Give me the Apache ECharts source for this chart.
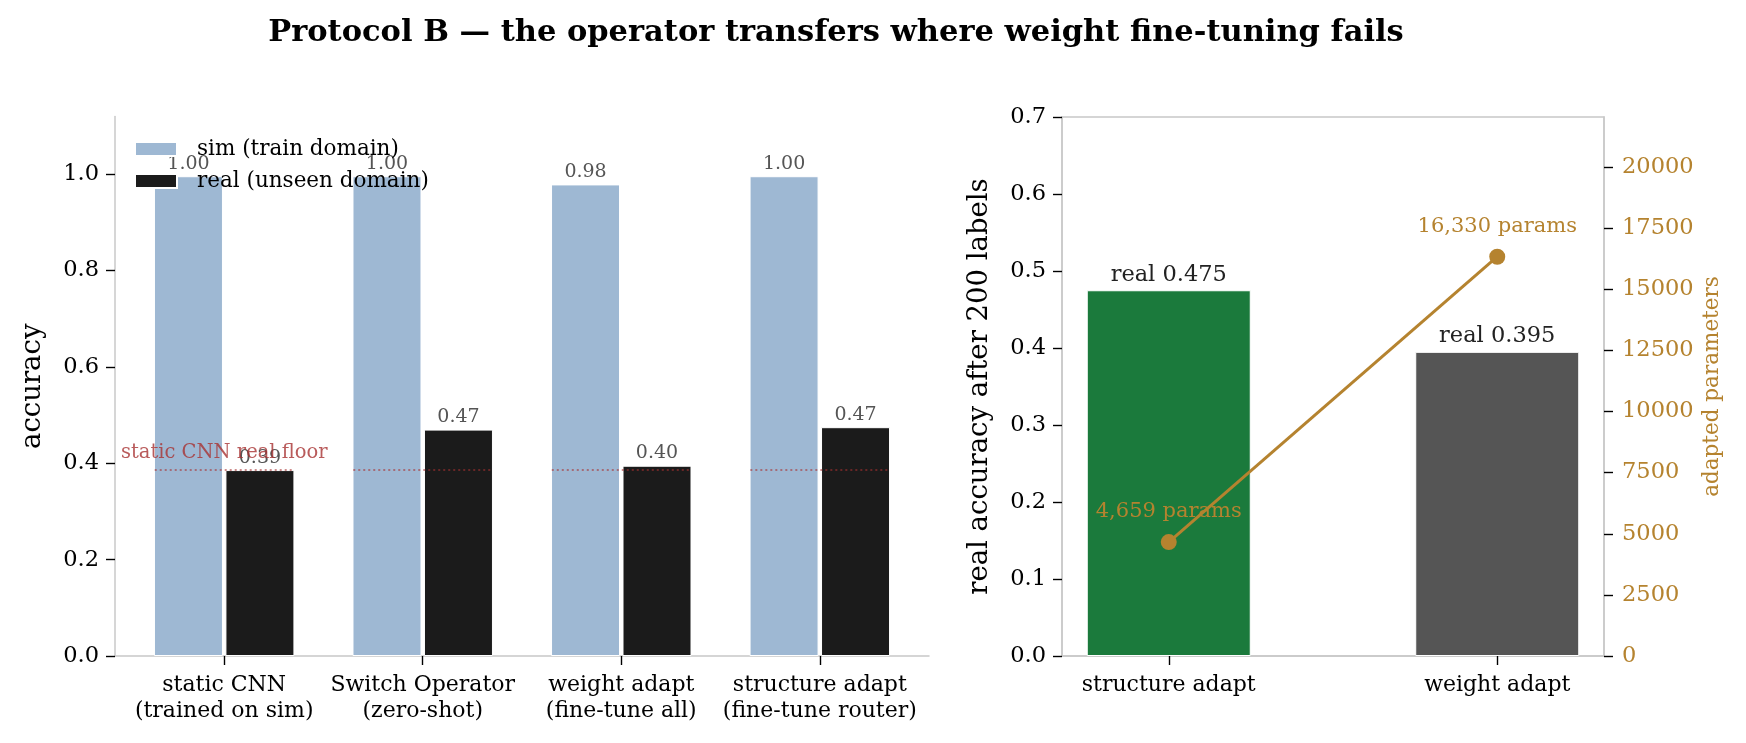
<!DOCTYPE html>
<html>
<head>
<meta charset="utf-8">
<script src="https://cdn.jsdelivr.net/npm/echarts@6/dist/echarts.min.js"></script>
<style>
html,body{margin:0;padding:0;background:#fff;}
#chart{width:1746px;height:743px;}
</style>
</head>
<body>
<div id="chart"></div>
<script>
// ---------- data ----------
const titleText = 'Protocol B \u2014 the operator transfers where weight fine-tuning fails';
const leftCategories = ['static CNN\n(trained on sim)', 'Switch Operator\n(zero-shot)', 'weight adapt\n(fine-tune all)', 'structure adapt\n(fine-tune router)'];
const simAccuracy = [0.996, 0.996, 0.979, 0.996];
const realAccuracy = [0.386, 0.470, 0.395, 0.475];
const staticFloor = 0.386;
const leftTicks = [0, 0.2, 0.4, 0.6, 0.8, 1.0];

const rightCategories = ['structure adapt', 'weight adapt'];
const rightRealAccuracy = [0.475, 0.395];
const adaptedParams = [4659, 16330];
const rightTicks = [0, 0.1, 0.2, 0.3, 0.4, 0.5, 0.6, 0.7];
const paramTicks = [0, 2500, 5000, 7500, 10000, 12500, 15000, 17500, 20000];

// ---------- styles ----------
const FONT = 'DejaVu Serif';
const SPINE = '#c8c8c8';
const GOLD = '#b5832f';
const SIM_COLOR = '#9eb8d3';
const REAL_COLOR = '#1b1b1b';
const FLOOR_COLOR = '#a83232';

const groupOffset = 0.18;
const floorHalf = 0.35;

const chart = echarts.init(document.getElementById('chart'), null, {renderer: 'canvas'});

const axisTickStyle = {show: true, length: 9, lineStyle: {color: '#000', width: 1.4}};
const spineLine = {show: true, onZero: false, lineStyle: {color: SPINE, width: 1.5}};

const floorSegments = leftCategories.map((c, i) => [
  {coord: [i - floorHalf, staticFloor]},
  {coord: [i + floorHalf, staticFloor]}
]);

const option = {
  backgroundColor: '#fff',
  animation: false,
  textStyle: {fontFamily: FONT},
  graphic: [{
    type: 'text', x: 836, y: 33,
    style: {text: titleText, fontFamily: FONT, fontWeight: 'bold', fontSize: 30.5, fill: '#000', textAlign: 'center', textVerticalAlign: 'middle'}
  }],
  legend: {
    show: true,
    orient: 'vertical',
    left: 129, top: 133,
    itemWidth: 42, itemHeight: 14, itemGap: 10,
    icon: 'rect',
    textStyle: {fontFamily: FONT, fontSize: 21.5, color: '#000', lineHeight: 22, padding: [0, 0, 0, 15]},
    data: ['sim (train domain)', 'real (unseen domain)']
  },
  grid: [
    {left: 115, right: 817, top: 116.5, bottom: 87, containLabel: false},
    {left: 1062, right: 142, top: 117, bottom: 87, containLabel: false, show: true, borderColor: SPINE, borderWidth: 1.5, backgroundColor: 'transparent'}
  ],
  xAxis: [
    {
      gridIndex: 0, type: 'value', min: -0.55, max: 3.55,
      axisLine: spineLine,
      axisTick: Object.assign({}, axisTickStyle, {customValues: [0, 1, 2, 3]}),
      axisLabel: {
        customValues: [0, 1, 2, 3], margin: 17,
        fontFamily: FONT, fontSize: 22, lineHeight: 25.5, color: '#000',
        formatter: v => leftCategories[Math.round(v)] || ''
      },
      splitLine: {show: false}
    },
    {
      gridIndex: 1, type: 'value', min: -0.325, max: 1.325,
      axisLine: spineLine,
      axisTick: Object.assign({}, axisTickStyle, {customValues: [0, 1]}),
      axisLabel: {
        customValues: [0, 1], margin: 17,
        fontFamily: FONT, fontSize: 22, lineHeight: 25.5, color: '#000',
        formatter: v => rightCategories[Math.round(v)] || ''
      },
      splitLine: {show: false}
    }
  ],
  yAxis: [
    {
      gridIndex: 0, type: 'value', min: 0, max: 1.12,
      name: 'accuracy', nameLocation: 'middle', nameGap: 68,
      nameTextStyle: {fontFamily: FONT, fontSize: 27.5, color: '#000'},
      axisLine: spineLine,
      axisTick: Object.assign({}, axisTickStyle, {customValues: leftTicks}),
      axisLabel: {customValues: leftTicks, margin: 16, fontFamily: FONT, fontSize: 22.5, color: '#000', formatter: v => v.toFixed(1)},
      splitLine: {show: false}
    },
    {
      gridIndex: 1, type: 'value', min: 0, max: 0.7,
      name: 'real accuracy after 200 labels', nameLocation: 'middle', nameGap: 68,
      nameTextStyle: {fontFamily: FONT, fontSize: 27.5, color: '#000'},
      axisLine: spineLine,
      axisTick: Object.assign({}, axisTickStyle, {customValues: rightTicks}),
      axisLabel: {customValues: rightTicks, margin: 16, fontFamily: FONT, fontSize: 22.5, color: '#000', formatter: v => v.toFixed(1)},
      splitLine: {show: false}
    },
    {
      gridIndex: 1, type: 'value', min: 0, max: Math.max(...adaptedParams) * 1.35, position: 'right',
      name: 'adapted parameters', nameLocation: 'middle', nameGap: 97, nameRotate: 90,
      nameTextStyle: {fontFamily: FONT, fontSize: 21.5, color: GOLD},
      axisLine: spineLine,
      axisTick: Object.assign({}, axisTickStyle, {customValues: paramTicks}),
      axisLabel: {customValues: paramTicks, margin: 18, fontFamily: FONT, fontSize: 22.5, color: GOLD, formatter: v => String(v)},
      splitLine: {show: false}
    }
  ],
  series: [
    {
      name: 'sim (train domain)', type: 'bar', xAxisIndex: 0, yAxisIndex: 0,
      barWidth: 69, barGap: '-100%',
      itemStyle: {color: SIM_COLOR, borderColor: '#fff', borderWidth: 1},
      label: {show: true, position: 'top', distance: 3, fontFamily: FONT, fontSize: 19, color: '#555',
        formatter: p => p.value[1].toFixed(2)},
      data: simAccuracy.map((v, i) => [i - groupOffset, v]),
      z: 2
    },
    {
      name: 'real (unseen domain)', type: 'bar', xAxisIndex: 0, yAxisIndex: 0,
      barWidth: 69, barGap: '-100%',
      itemStyle: {color: REAL_COLOR, borderColor: '#fff', borderWidth: 1},
      label: {show: true, position: 'top', distance: 3, fontFamily: FONT, fontSize: 19, color: '#555',
        formatter: p => p.value[1].toFixed(2)},
      data: realAccuracy.map((v, i) => [i + groupOffset, v]),
      markLine: {
        silent: true, symbol: ['none', 'none'],
        lineStyle: {color: FLOOR_COLOR, type: [2, 3], width: 1.5, opacity: 0.75},
        label: {show: false},
        data: floorSegments
      },
      z: 2
    },
    {
      name: 'floor label', type: 'scatter', xAxisIndex: 0, yAxisIndex: 0,
      symbolSize: 0, silent: true,
      label: {show: true, position: 'right', distance: 0, offset: [0, -17], fontFamily: FONT, fontSize: 19.5, color: FLOOR_COLOR,
        formatter: 'static CNN real floor'},
      data: [[-0.52, staticFloor]],
      z: 5
    },
    {
      name: 'right real', type: 'bar', xAxisIndex: 1, yAxisIndex: 1,
      barWidth: 164, barGap: '-100%',
      itemStyle: {color: p => ['#1b7a3c', '#555555'][p.dataIndex], borderColor: '#fff', borderWidth: 1},
      label: {show: true, position: 'top', distance: 4, fontFamily: FONT, fontSize: 22.5, color: '#222',
        formatter: p => 'real ' + p.value[1].toFixed(3)},
      data: rightRealAccuracy.map((v, i) => [i, v]),
      z: 2
    },
    {
      name: 'params', type: 'line', xAxisIndex: 1, yAxisIndex: 2,
      symbol: 'circle', symbolSize: 16,
      lineStyle: {color: GOLD, width: 3},
      itemStyle: {color: GOLD},
      label: {show: true, position: 'top', distance: 12, fontFamily: FONT, fontSize: 21, color: GOLD,
        formatter: p => p.value[1].toLocaleString('en-US') + ' params'},
      data: adaptedParams.map((v, i) => [i, v]),
      z: 4
    }
  ]
};
chart.setOption(option);
</script>
</body>
</html>
